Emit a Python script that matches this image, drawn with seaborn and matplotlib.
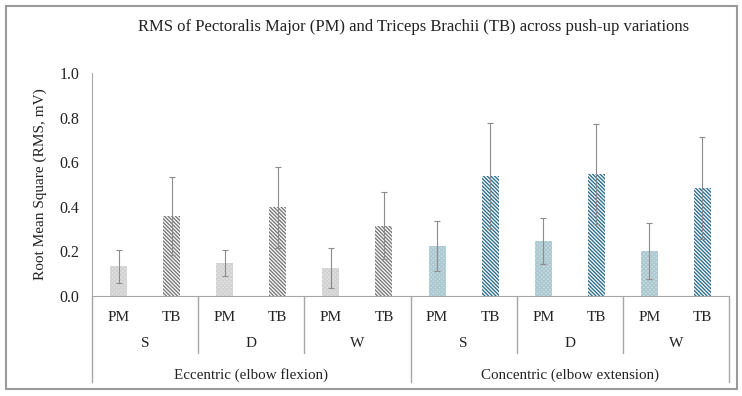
import numpy as np
import pandas as pd
import seaborn as sns
import matplotlib.pyplot as plt

# values (mean RMS, mV, and SD)
variations = ['S', 'D', 'W']
phases = ['Eccentric (elbow flexion)', 'Concentric (elbow extension)']
muscles = ['PM', 'TB']

ecc_pm = [0.134, 0.149, 0.126]
ecc_pm_sd = [0.074, 0.058, 0.088]
ecc_tb = [0.360, 0.397, 0.315]
ecc_tb_sd = [0.175, 0.182, 0.150]
con_pm = [0.224, 0.247, 0.202]
con_pm_sd = [0.114, 0.103, 0.124]
con_tb = [0.537, 0.548, 0.483]
con_tb_sd = [0.238, 0.225, 0.228]

series_vals = {
    ('Ecc', 'PM'): (ecc_pm, ecc_pm_sd),
    ('Ecc', 'TB'): (ecc_tb, ecc_tb_sd),
    ('Con', 'PM'): (con_pm, con_pm_sd),
    ('Con', 'TB'): (con_tb, con_tb_sd),
}

rows = []
for ph in ['Ecc', 'Con']:
    for i, v in enumerate(variations):
        for m in muscles:
            mean, sd = series_vals[(ph, m)]
            rows.append(dict(slot=f'{ph}-{v}-{m}', series=f'{ph} {m}', phase=ph,
                             variation=v, muscle=m, rms=mean[i], sd=sd[i]))
df = pd.DataFrame(rows)
order = list(df['slot'])
series_order = ['Ecc PM', 'Ecc TB', 'Con PM', 'Con TB']

sns.set_style('white')
plt.rcParams['font.family'] = ['Liberation Serif', 'DejaVu Serif']
plt.rcParams['hatch.linewidth'] = 1.0

fig = plt.figure(figsize=(7.42, 3.96), dpi=100)
ax = fig.add_axes([0.124, 0.2525, 0.8585, 0.5632])

sns.barplot(data=df, x='slot', y='rms', hue='series', order=order,
            hue_order=series_order, dodge=False, width=0.32, legend=False,
            palette=['#d8d8d8', '#ffffff', '#b3ced7', '#ffffff'], ax=ax)

# textures per series: (face, hatch colour, hatch)
styles = {
    'Ecc PM': ('#e4e4e4', '#d2d2d2', 'x' * 8),
    'Ecc TB': ('#ffffff', '#7a7a7a', '\\' * 9),
    'Con PM': ('#cce0e6', '#abc8d1', 'x' * 8),
    'Con TB': ('#ffffff', '#2f7090', '\\' * 9),
}
for cont, name in zip(ax.containers, series_order):
    face, hc, hatch = styles[name]
    for bar in cont:
        bar.set_facecolor(face)
        bar.set_edgecolor(hc)
        bar.set_linewidth(0)
        bar.set_hatch(hatch)

xpos = np.arange(len(order))
ax.errorbar(xpos, df['rms'], yerr=df['sd'], fmt='none', ecolor='#8c8c8c',
            elinewidth=0.8, capsize=2.5, capthick=0.8)

ax.set_xlim(-0.5, len(order) - 0.5)
ax.set_ylim(0, 1.0)
ax.set_yticks(np.arange(0, 1.01, 0.2))
ax.set_yticklabels([f'{t:.1f}' for t in np.arange(0, 1.01, 0.2)])
ax.set_xticks(xpos)
ax.set_xticklabels(df['muscle'])
ax.tick_params(axis='both', length=0, labelsize=11, colors='#222222')
ax.tick_params(axis='x', pad=11)
ax.tick_params(axis='y', labelsize=11.5, pad=9)
ax.set_xlabel('')
ax.set_ylabel('Root Mean Square (RMS, mV)', fontsize=11, color='#222222', labelpad=9)
for s in ['top', 'right']:
    ax.spines[s].set_visible(False)
ax.spines['left'].set_color('#a6a6a6')
ax.spines['bottom'].set_color('#a6a6a6')

# multi-level category axis
trans = ax.get_xaxis_transform()
for j in range(6):
    ax.text(2 * j + 0.5, -0.212, variations[j % 3], transform=trans,
            ha='center', va='center', fontsize=11, color='#222222')
for k, ph in enumerate(phases):
    ax.text(6 * k + 2.5, -0.354, ph, transform=trans,
            ha='center', va='center', fontsize=10.8, color='#222222')
for b in [1.5, 3.5, 7.5, 9.5]:
    ax.plot([b, b], [0, -0.256], transform=trans, color='#a6a6a6', lw=1, clip_on=False)
for b in [-0.5, 5.5, 11.5]:
    ax.plot([b, b], [0, -0.386], transform=trans, color='#a6a6a6', lw=1, clip_on=False)

fig.text(414 / 742, 1 - 27 / 396,
         'RMS of Pectoralis Major (PM) and Triceps Brachii (TB) across push-up variations',
         ha='center', va='center', fontsize=12, color='#222222')

# outer frame
fig.add_artist(plt.Rectangle((6 / 742, 7 / 396), 731 / 742, 383 / 396,
                             transform=fig.transFigure, fill=False,
                             edgecolor='#9a9a9a', lw=1.5))

fig.savefig('out.png', dpi=100)
